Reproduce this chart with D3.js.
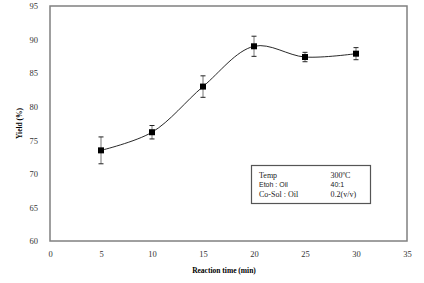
<!DOCTYPE html>
<html>
<head>
<meta charset="utf-8">
<script src="https://cdn.jsdelivr.net/npm/d3@7"></script>
<style>
  body { margin: 0; background: #fff; }
  text { font-family: "Liberation Serif", "DejaVu Serif", serif; }
</style>
</head>
<body>
<svg id="chart" width="424" height="283"></svg>
<script>
const times = [5, 10, 15, 20, 25, 30];
const yields = [73.5, 76.2, 83.0, 89.0, 87.4, 87.9];
const errors = [2.0, 1.0, 1.6, 1.5, 0.7, 0.9];
const xTicks = [0, 5, 10, 15, 20, 25, 30, 35];
const yTicks = [60, 65, 70, 75, 80, 85, 90, 95];
const legendRows = [["Temp", "300ºC"], ["Etoh : Oil", "40:1"], ["Co-Sol : Oil", "0.2(v/v)"]];

const margin = { top: 6, right: 17, bottom: 42, left: 50 };
const width = 424, height = 283;
const svg = d3.select("#chart");

const x = d3.scaleLinear().domain([0, 35]).range([margin.left, width - margin.right]);
const y = d3.scaleLinear().domain([60, 95]).range([height - margin.bottom, margin.top]);

// plot frame
svg.append("rect")
  .attr("x", x(0)).attr("y", y(95))
  .attr("width", x(35) - x(0)).attr("height", y(60) - y(95))
  .attr("fill", "none").attr("stroke", "#808080").attr("stroke-width", 1.5);

const xAxis = svg.append("g")
  .attr("transform", `translate(0,${y(60)})`)
  .call(d3.axisBottom(x).tickValues(xTicks).tickSize(0).tickPadding(10));
const yAxis = svg.append("g")
  .attr("transform", `translate(${x(0)},0)`)
  .call(d3.axisLeft(y).tickValues(yTicks).tickSize(0).tickPadding(12));
[xAxis, yAxis].forEach(g => {
  g.select(".domain").remove();
  g.selectAll("text").attr("font-size", 8.5).attr("fill", "#333");
});

svg.append("text")
  .attr("x", 224).attr("y", 273)
  .attr("text-anchor", "middle").attr("font-size", 7.5).attr("font-weight", "bold")
  .text("Reaction time (min)");

svg.append("text")
  .attr("transform", `translate(22,${y(77.5)}) rotate(-90)`)
  .attr("text-anchor", "middle").attr("font-size", 7.5).attr("font-weight", "bold")
  .text("Yield (%)");

const data = times.map((t, i) => ({ t, v: yields[i], e: errors[i] }));

// smooth line
svg.append("path")
  .datum(data)
  .attr("fill", "none").attr("stroke", "#111").attr("stroke-width", 0.9)
  .attr("d", d3.line().x(d => x(d.t)).y(d => y(d.v)).curve(d3.curveCatmullRom.alpha(0.5)));

// error bars
const eb = svg.append("g").selectAll("g").data(data).join("g");
eb.append("line")
  .attr("x1", d => x(d.t)).attr("x2", d => x(d.t))
  .attr("y1", d => y(d.v - d.e)).attr("y2", d => y(d.v + d.e))
  .attr("stroke", "#777").attr("stroke-width", 1);
[-1, 1].forEach(s => {
  eb.append("line")
    .attr("x1", d => x(d.t) - 2.5).attr("x2", d => x(d.t) + 2.5)
    .attr("y1", d => y(d.v + s * d.e)).attr("y2", d => y(d.v + s * d.e))
    .attr("stroke", "#222").attr("stroke-width", 1);
});

// markers
svg.append("g").selectAll("rect").data(data).join("rect")
  .attr("x", d => x(d.t) - 3).attr("y", d => y(d.v) - 3)
  .attr("width", 6).attr("height", 6).attr("fill", "#000");

// legend box
const lg = svg.append("g").attr("transform", "translate(251.5,165.5)");
lg.append("rect")
  .attr("width", 119).attr("height", 38)
  .attr("fill", "#fff").attr("stroke", "#555").attr("stroke-width", 1.2);
legendRows.forEach((row, i) => {
  const font = i === 1 ? "'Liberation Sans', Arial, sans-serif" : "'Liberation Serif', serif";
  const size = i === 1 ? 7 : 8;
  lg.append("text").attr("x", 7.5).attr("y", 12 + i * 9.7)
    .style("font-family", font).style("font-size", size + "px")
    .attr("fill", "#222").text(row[0]);
  lg.append("text").attr("x", 79).attr("y", 12 + i * 9.7)
    .style("font-family", font).style("font-size", size + "px")
    .attr("fill", "#222").text(row[1]);
});
</script>
</body>
</html>
